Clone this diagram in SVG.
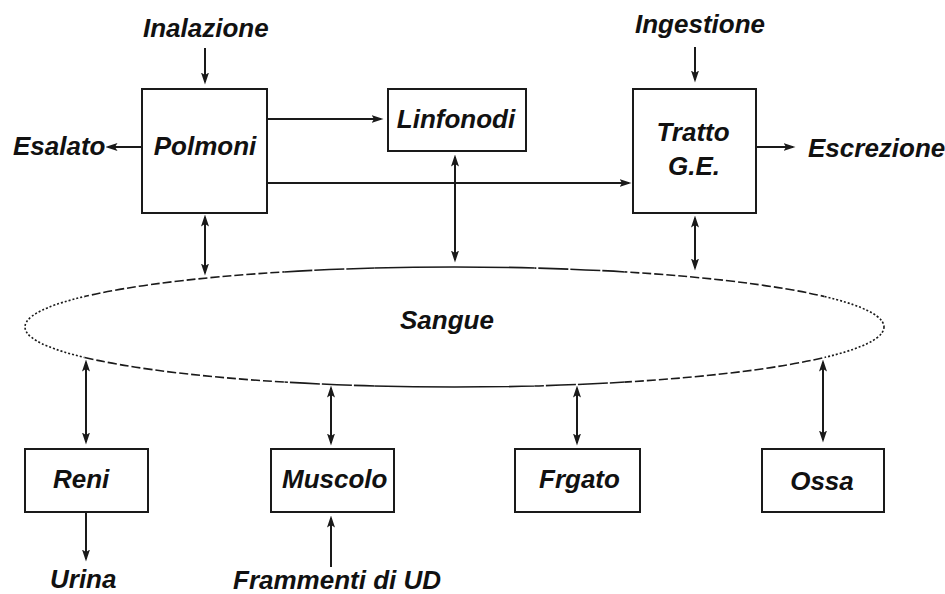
<svg xmlns="http://www.w3.org/2000/svg" width="945" height="594" viewBox="0 0 945 594">
  <style>
    .box { fill: #ffffff; stroke: #1a1a1a; stroke-width: 2; }
    .lbl { font-family: "Liberation Sans", Arial, sans-serif; font-size: 26px; font-style: italic; font-weight: bold; fill: #111111; }
    .mid { text-anchor: middle; }
    .con { fill: none; stroke: #1a1a1a; stroke-width: 2; }
    .one { marker-end: url(#ah); }
    .two { marker-start: url(#ah); marker-end: url(#ah); }
    .ell { fill: none; stroke: #1a1a1a; stroke-width: 1.6; }
  </style>
  <defs>
    <marker id="ah" markerUnits="userSpaceOnUse" markerWidth="12" markerHeight="9" refX="9.5" refY="4.5" orient="auto-start-reverse">
      <path d="M0,0.5 L12,4.5 L0,8.5 L2.5,4.5 Z" fill="#1a1a1a"/>
    </marker>
    <clipPath id="cSolid"><rect x="374.5" y="0" width="160" height="594"/></clipPath>
    <clipPath id="cLong"><rect x="284.5" y="0" width="90" height="594"/><rect x="534.5" y="0" width="90" height="594"/></clipPath>
    <clipPath id="cMed"><rect x="84.5" y="0" width="200" height="594"/><rect x="624.5" y="0" width="200" height="594"/></clipPath>
    <clipPath id="cDot"><rect x="0" y="0" width="84.5" height="594"/><rect x="824.5" y="0" width="120.5" height="594"/></clipPath>
  </defs>
  <rect width="945" height="594" fill="#ffffff"/>

  <g id="sangue">
    <ellipse class="ell" cx="454.5" cy="327" rx="429.5" ry="60" clip-path="url(#cSolid)"/>
    <ellipse class="ell" cx="454.5" cy="327" rx="429.5" ry="60" clip-path="url(#cLong)" stroke-dasharray="30 2"/>
    <ellipse class="ell" cx="454.5" cy="327" rx="429.5" ry="60" clip-path="url(#cMed)" stroke-dasharray="9 3"/>
    <ellipse class="ell" cx="454.5" cy="327" rx="429.5" ry="60" clip-path="url(#cDot)" stroke-dasharray="2 2"/>
    <text class="lbl mid" x="447" y="329">Sangue</text>
  </g>

  <g id="polmoni">
    <rect class="box" x="142" y="89" width="125" height="124"/>
    <text class="lbl mid" x="205" y="155">Polmoni</text>
  </g>
  <g id="linfonodi">
    <rect class="box" x="388" y="89" width="138" height="62"/>
    <text class="lbl mid" x="456" y="128">Linfonodi</text>
  </g>
  <g id="tratto">
    <rect class="box" x="633" y="89" width="123" height="124"/>
    <text class="lbl mid" x="693" y="141">Tratto</text>
    <text class="lbl mid" x="694" y="175">G.E.</text>
  </g>
  <g id="reni">
    <rect class="box" x="25" y="449" width="123" height="63"/>
    <text class="lbl" x="53" y="488">Reni</text>
  </g>
  <g id="muscolo">
    <rect class="box" x="271" y="449" width="123" height="63"/>
    <text class="lbl" x="282" y="488">Muscolo</text>
  </g>
  <g id="frgato">
    <rect class="box" x="515" y="449" width="125" height="63"/>
    <text class="lbl" x="539" y="488">Frgato</text>
  </g>
  <g id="ossa">
    <rect class="box" x="762" y="449" width="122" height="63"/>
    <text class="lbl mid" x="822" y="490">Ossa</text>
  </g>

  <g id="inalazione"><text class="lbl" x="143" y="37">Inalazione</text></g>
  <g id="ingestione"><text class="lbl" x="635" y="33">Ingestione</text></g>
  <g id="esalato"><text class="lbl" x="13" y="155">Esalato</text></g>
  <g id="escrezione"><text class="lbl" x="808" y="157">Escrezione</text></g>
  <g id="urina"><text class="lbl" x="50" y="588">Urina</text></g>
  <g id="frammenti"><text class="lbl" x="233" y="589">Frammenti di UD</text></g>

  <g id="connectors">
    <line class="con one" x1="205" y1="48" x2="205" y2="82"/>
    <line class="con one" x1="695" y1="47" x2="695" y2="80"/>
    <line class="con one" x1="142" y1="147" x2="108" y2="147"/>
    <line class="con one" x1="756" y1="147" x2="793" y2="147"/>
    <line class="con one" x1="267" y1="119" x2="381" y2="119"/>
    <line class="con one" x1="267" y1="183" x2="629" y2="183"/>
    <line class="con two" x1="205" y1="217" x2="205" y2="273"/>
    <line class="con two" x1="455" y1="157" x2="455" y2="260"/>
    <line class="con two" x1="695" y1="218" x2="695" y2="268"/>
    <line class="con two" x1="86" y1="362" x2="86" y2="442"/>
    <line class="con two" x1="331" y1="388" x2="331" y2="443"/>
    <line class="con two" x1="577" y1="388" x2="577" y2="443"/>
    <line class="con two" x1="823" y1="362" x2="823" y2="440"/>
    <line class="con one" x1="86" y1="512" x2="86" y2="559"/>
    <line class="con one" x1="331" y1="567" x2="331" y2="518"/>
  </g>
</svg>
